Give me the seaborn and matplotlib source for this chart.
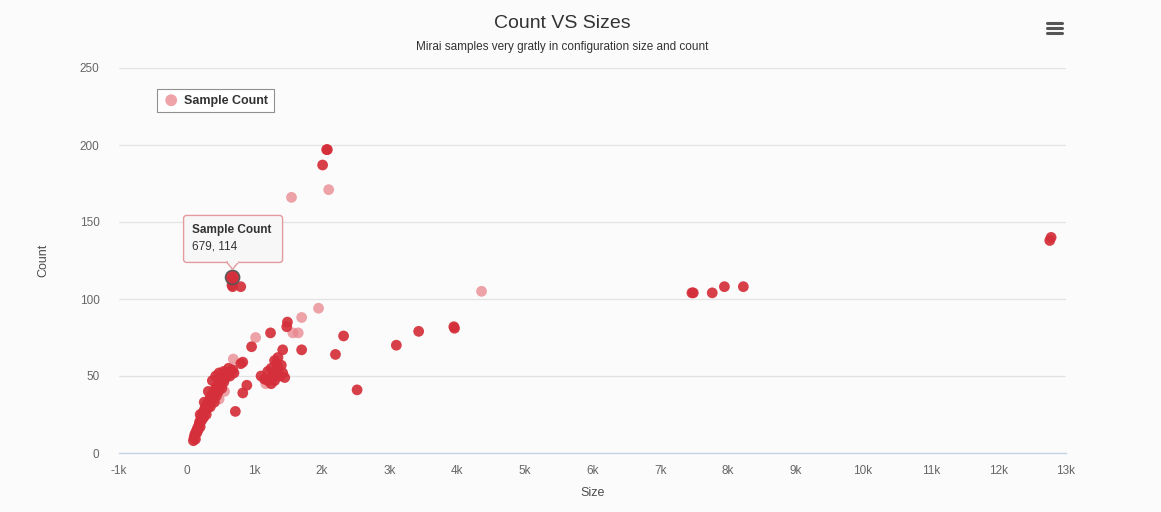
import matplotlib
matplotlib.use("Agg")
import matplotlib.pyplot as plt
import matplotlib.patches as mpatches
import matplotlib.transforms as mtransforms
from matplotlib.lines import Line2D
from matplotlib.ticker import FuncFormatter, MultipleLocator
import seaborn as sns
import pandas as pd

# Config size (bytes) vs number of entries, solid-looking points
size_solid = [100, 110, 120, 130, 140, 150, 160, 170, 180, 190, 200, 210, 220, 230,
              240, 250, 260, 270, 280, 290, 300, 310, 320, 330, 340, 350, 360, 370,
              380, 390, 400, 410, 420, 430, 440, 450, 460, 470, 480, 490, 500, 510,
              520, 540, 550, 560, 580, 600, 620, 640, 660, 680, 700,
              200, 260, 320, 380, 430, 480, 550, 620,
              679, 670, 680, 800,
              2080, 2070, 2010,
              1490, 1480, 1240, 960, 1420, 1700, 2320, 2200, 3100, 3430, 3960, 3950, 2520,
              1100, 1150, 1200, 1250, 1300, 1330, 1350, 1280, 1380, 1420, 1450, 1200,
              1300, 1250, 1350, 1400, 1320,
              800, 890, 830, 720, 830,
              7470, 7490, 7770, 7950, 8230, 12760, 12780]
count_solid = [8, 10, 12, 9, 14, 13, 16, 15, 18, 20, 17, 22, 21, 24,
               26, 23, 28, 27, 30, 25, 31, 29, 33, 32, 35, 30, 37, 34,
               38, 36, 40, 33, 39, 42, 37, 41, 44, 40, 43, 46, 45, 47,
               42, 48, 46, 50, 49, 51, 52, 50, 53, 54, 52,
               25, 33, 40, 47, 50, 52, 53, 55,
               114, 109, 108, 108,
               197, 197, 187,
               85, 82, 78, 69, 67, 67, 76, 64, 70, 79, 81, 82, 41,
               50, 48, 53, 55, 60, 58, 62, 52, 50, 52, 49, 47,
               47, 45, 55, 57, 50,
               58, 44, 39, 27, 59,
               104, 104, 104, 108, 108, 138, 140]

# faded points
size_faint = [2100, 1550, 1700, 1950, 1020, 1570, 1650, 4360, 1170, 690, 560, 480]
count_faint = [171, 166, 88, 94, 75, 78, 78, 105, 45, 61, 40, 35]

y_ticks = [0, 50, 100, 150, 200, 250]

tip_point = (679, 114)

W, H, DPI = 1161, 512, 100
BG = "#fbfbfb"
RED = "#d42f3a"
PINK = "#e8848b"
TXT = "#666666"

sns.set_style("white")
plt.rcParams["font.family"] = ["Liberation Sans", "DejaVu Sans"]

fig = plt.figure(figsize=(W / DPI, H / DPI), dpi=DPI, facecolor=BG)
ax = fig.add_axes([119 / W, 1 - 453 / H, (1066 - 119) / W, (453 - 68) / H])
ax.set_facecolor(BG)

df_solid = pd.DataFrame({"Size": size_solid, "Count": count_solid})
df_faint = pd.DataFrame({"Size": size_faint, "Count": count_faint})

sns.scatterplot(data=df_faint, x="Size", y="Count", ax=ax, color=PINK, alpha=0.75,
                s=60, edgecolor="none", label="Sample Count", zorder=3)
sns.scatterplot(data=df_solid, x="Size", y="Count", ax=ax, color=RED, alpha=0.92,
                s=60, edgecolor="none", legend=False, zorder=4)

ax.set_xlim(-1000, 13000)
ax.set_ylim(0, 250)
ax.xaxis.set_major_locator(MultipleLocator(1000))
ax.set_yticks(y_ticks)


def kfmt(v, pos):
    if v == 0:
        return "0"
    return f"{int(v / 1000)}k"


ax.xaxis.set_major_formatter(FuncFormatter(kfmt))
ax.grid(axis="y", color="#e3e3e3", linewidth=0.9)
ax.set_axisbelow(True)
for side in ["top", "right", "left"]:
    ax.spines[side].set_visible(False)
ax.spines["bottom"].set_color("#c5d3e6")
ax.spines["bottom"].set_linewidth(1.0)
ax.tick_params(axis="x", colors="#c5d3e6", length=6, width=1, direction="out",
               labelcolor=TXT, labelsize=8.5, pad=3)
ax.tick_params(axis="y", length=0, labelcolor=TXT, labelsize=8.5, pad=14)

ax.set_xlabel("Size", fontsize=9, color="#4d4d4d", labelpad=7)
ax.set_ylabel("Count", fontsize=9, color="#4d4d4d", labelpad=22)

leg = ax.legend(loc="upper left", bbox_to_anchor=(0.034, 0.962), frameon=True,
                fancybox=False, edgecolor="#909090", facecolor="white",
                prop={"weight": "bold", "size": 9}, handletextpad=0.4,
                borderpad=0.45, handlelength=1.3, markerscale=1.1)
leg.get_frame().set_linewidth(0.8)
leg.get_frame().set_alpha(1)
for t in leg.get_texts():
    t.set_color("#333333")

fig.text(562 / W, 1 - 24 / H, "Count VS Sizes", ha="center", va="center",
         fontsize=14, color="#333333")
fig.text(562 / W, 1 - 47 / H, "Mirai samples very gratly in configuration size and count",
         ha="center", va="center", fontsize=8.5, color="#333333")

# hamburger menu
for yy in (23, 28, 33):
    fig.add_artist(Line2D([1047 / W, 1062 / W], [1 - yy / H, 1 - yy / H],
                          color="#555555", linewidth=2.2))

# tooltip for the hovered point
px, py = ax.transData.transform(tip_point)
off = mtransforms.Affine2D().translate(px, py)
ring = mpatches.Circle((0, 0), 7, transform=off, facecolor=RED,
                       edgecolor="#555555", linewidth=1.2, zorder=6, alpha=0.95)
fig.add_artist(ring)
box = mpatches.FancyBboxPatch((-49, 15), 99, 47, boxstyle="round,pad=0,rounding_size=3",
                              transform=off, facecolor="#f7f7f7", edgecolor="#e49a9e",
                              linewidth=1.0, zorder=7)
fig.add_artist(box)
arrow = mpatches.Polygon([(-6, 15.5), (0, 8), (6, 15.5)], closed=True, transform=off,
                         facecolor="#f7f7f7", edgecolor="#e49a9e", linewidth=1.0, zorder=7)
fig.add_artist(arrow)
fig.add_artist(mpatches.Rectangle((-5, 14), 10, 2.5, transform=off, facecolor="#f7f7f7",
                                  edgecolor="none", zorder=8))
txt_t = mtransforms.Affine2D().translate(px - 41, py)
fig.text(0, 47, "Sample Count", transform=txt_t, fontsize=8.5, fontweight="bold",
         color="#333333", va="center", ha="left", zorder=9)
fig.text(0, 31, "679, 114", transform=txt_t, fontsize=8.5, color="#333333",
         va="center", ha="left", zorder=9)

fig.savefig("out.png", dpi=DPI, facecolor=BG)
